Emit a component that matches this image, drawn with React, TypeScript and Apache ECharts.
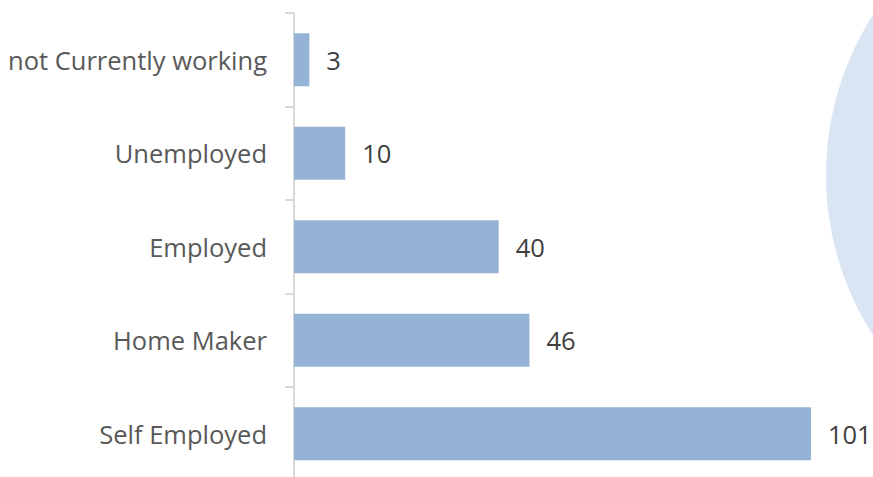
import React, { useEffect, useRef } from "react";
import * as echarts from "echarts";

const categories = ["Self Employed", "Home Maker", "Employed", "Unemployed", "not Currently working"];
const values = [101, 46, 40, 10, 3];

export default function App() {
  const ref = useRef<HTMLDivElement>(null);
  useEffect(() => {
    const chart = echarts.init(ref.current!, undefined, { renderer: "svg" });
    chart.setOption({
      animation: false,
      backgroundColor: "#ffffff",
      graphic: [
        {
          type: "circle",
          z: -10,
          shape: { cx: 1122, cy: 175, r: 296 },
          style: { fill: "#dae5f4" },
        },
      ],
      grid: { left: 294, top: 13, width: 563, height: 467.5 },
      xAxis: {
        type: "value",
        min: 0,
        max: 110,
        show: false,
      },
      yAxis: {
        type: "category",
        data: categories,
        axisLine: { show: true, lineStyle: { color: "#d9d9d9", width: 2 } },
        axisTick: { show: true, length: 9, lineStyle: { color: "#d9d9d9", width: 2 } },
        axisLabel: {
          margin: 27,
          fontFamily: "Open Sans",
          fontSize: 25.5,
          color: "#595959",
          padding: [0, 0, 4, 0],
        },
        splitLine: { show: false },
      },
      series: [
        {
          type: "bar",
          data: values,
          barWidth: 53,
          barCategoryGap: "43%",
          itemStyle: { color: "#95b3d7" },
          label: {
            show: true,
            position: "right",
            distance: 17,
            fontFamily: "Open Sans",
            fontSize: 25.5,
            color: "#404040",
          },
        },
      ],
    });
    return () => chart.dispose();
  }, []);
  return (
    <div style={{ width: 873, height: 477, position: "absolute", left: 0, top: 0, overflow: "hidden" }}>
      <div ref={ref} style={{ width: 873, height: 495 }} />
    </div>
  );
}
